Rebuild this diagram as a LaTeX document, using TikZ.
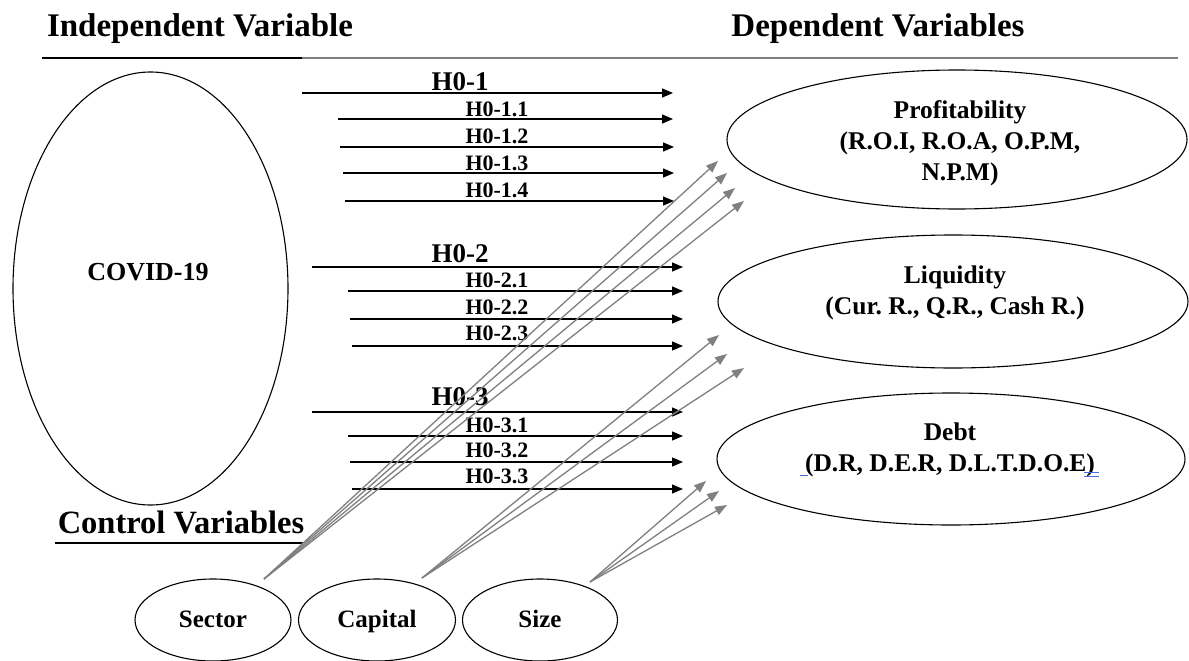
\documentclass[tikz,border=0pt]{standalone}
\usepackage{fontspec}
\setmainfont{Liberation Serif}
\usetikzlibrary{arrows.meta,shapes.geometric}
\definecolor{gline}{RGB}{128,128,128}
\definecolor{wordblue}{RGB}{70,110,220}
\frenchspacing
\begin{document}
\begin{tikzpicture}[x=1pt,y=-1pt,
  title/.style={font=\fontsize{33}{38}\selectfont\bfseries, inner sep=0pt, anchor=base},
  oval/.style={draw, ellipse, line width=1.1pt, inner sep=0pt},
  ovaltext/.style={font=\fontsize{25.5}{31}\selectfont\bfseries, align=center, inner sep=0pt},
  smalloval/.style={oval, minimum width=156pt, minimum height=82pt, font=\fontsize{25}{28}\selectfont\bfseries, text height=17pt, text depth=3pt},
  hmain/.style={font=\fontsize{27}{30}\selectfont\bfseries, inner sep=0pt, anchor=base},
  hsub/.style={font=\fontsize{22}{24}\selectfont\bfseries, inner sep=0pt, anchor=base},
  harrow/.style={line width=1.3pt, -{Triangle[length=11pt,width=9pt]}},
  garrow/.style={draw=gline, line width=1.3pt, -{Triangle[length=12pt,width=9pt]}, color=gline},
]
\useasboundingbox[fill=white] (0,0) rectangle (1189,661);

% titles and top rule
\node[title] (indep) at (200,37) {Independent Variable};
\node[title] (dep) at (878,37) {Dependent Variables};
\coordinate (rA) at (42,58);
\coordinate (rB) at (302,58);
\coordinate (rC) at (1178,58);
\draw[gline, line width=2pt] (rA) -- (rC);
\draw[black, line width=2pt] (rA) -- (rB);

% COVID ellipse
\node[oval, minimum width=275pt, minimum height=433pt] (covid) at (150.5,288.5) {};
\node[ovaltext, font=\fontsize{26}{28}\selectfont\bfseries] (covidtxt) at (148,272) {COVID-19};

% dependent ellipses
\node[oval, minimum width=460pt, minimum height=139pt] (prof) at (957,139.5) {};
\node[ovaltext] (proftxt) at (960,143) {Profitability\\(R.O.I, R.O.A, O.P.M,\\N.P.M)};
\node[oval, minimum width=470pt, minimum height=133pt] (liq) at (953,301.5) {};
\node[ovaltext] (liqtxt) at (955,293) {Liquidity\\(Cur. R., Q.R., Cash R.)};
\node[oval, minimum width=468pt, minimum height=132pt] (debt) at (951,459) {};
\node[ovaltext] (debttxt) at (950,450) {Debt\\(D.R, D.E.R, D.L.T.D.O.E)};
% small blue autocorrect marks
\coordinate (bm1a) at (800,475.5); \coordinate (bm1b) at (808,475.5);
\coordinate (bm2a) at (1084,472.5); \coordinate (bm2b) at (1099,472.5);
\coordinate (bm3a) at (1084,476); \coordinate (bm3b) at (1099,476);
\draw[wordblue, line width=0.9pt] (bm1a) -- (bm1b);
\draw[wordblue, line width=0.9pt] (bm2a) -- (bm2b);
\draw[wordblue, line width=0.9pt] (bm3a) -- (bm3b);

% control variables
\node[title, font=\fontsize{32.5}{36}\selectfont\bfseries] (ctrl) at (181,533) {Control Variables};
\coordinate (ul1) at (55,543); \coordinate (ul2) at (303,543);
\draw[line width=1.3pt] (ul1) -- (ul2);
\node[smalloval] (sector) at (213,620) {Sector};
\node[smalloval, minimum width=157pt] (capital) at (377,620) {Capital};
\node[smalloval, minimum width=155pt] (size) at (540,620) {Size};

% H0-1 group
\coordinate (a1s) at (302,93);  \coordinate (a1e) at (673,93);
\coordinate (a11s) at (338,119); \coordinate (a11e) at (673,119);
\coordinate (a12s) at (340,147); \coordinate (a12e) at (674,147);
\coordinate (a13s) at (343,173); \coordinate (a13e) at (674,173);
\coordinate (a14s) at (345,201); \coordinate (a14e) at (674,201);
\draw[harrow] (a1s) -- (a1e);
\draw[harrow] (a11s) -- (a11e);
\draw[harrow] (a12s) -- (a12e);
\draw[harrow] (a13s) -- (a13e);
\draw[harrow] (a14s) -- (a14e);
\node[hmain] (l1) at (460,90) {H0-1};
\node[hsub] (l11) at (497,116) {H0-1.1};
\node[hsub] (l12) at (497,143) {H0-1.2};
\node[hsub] (l13) at (497,170) {H0-1.3};
\node[hsub] (l14) at (497,197) {H0-1.4};

% H0-2 group
\coordinate (a2s) at (312,267);  \coordinate (a2e) at (683,267);
\coordinate (a21s) at (348,291); \coordinate (a21e) at (683,291);
\coordinate (a22s) at (350,319); \coordinate (a22e) at (683,319);
\coordinate (a23s) at (352,346); \coordinate (a23e) at (683,346);
\draw[harrow] (a2s) -- (a2e);
\draw[harrow] (a21s) -- (a21e);
\draw[harrow] (a22s) -- (a22e);
\draw[harrow] (a23s) -- (a23e);
\node[hmain] (l2) at (460,262) {H0-2};
\node[hsub] (l21) at (497,287) {H0-2.1};
\node[hsub] (l22) at (497,314) {H0-2.2};
\node[hsub] (l23) at (497,340) {H0-2.3};

% H0-3 group
\coordinate (a3s) at (312,412);  \coordinate (a3e) at (683,412);
\coordinate (a31s) at (348,436); \coordinate (a31e) at (683,436);
\coordinate (a32s) at (350,462); \coordinate (a32e) at (683,462);
\coordinate (a33s) at (352,489); \coordinate (a33e) at (683,489);
\draw[harrow] (a3s) -- (a3e);
\draw[harrow] (a31s) -- (a31e);
\draw[harrow] (a32s) -- (a32e);
\draw[harrow] (a33s) -- (a33e);
\node[hmain] (l3) at (460,405) {H0-3};
\node[hsub] (l31) at (497,432) {H0-3.1};
\node[hsub] (l32) at (497,457) {H0-3.2};
\node[hsub] (l33) at (497,483) {H0-3.3};

% control variable arrows
\coordinate (sS) at (264,579);
\coordinate (sT1) at (718,161); \coordinate (sT2) at (727,173);
\coordinate (sT3) at (735,188); \coordinate (sT4) at (744,201);
\draw[garrow] (sS) -- (sT1);
\draw[garrow] (sS) -- (sT2);
\draw[garrow] (sS) -- (sT3);
\draw[garrow] (sS) -- (sT4);
\coordinate (cS) at (422,578);
\coordinate (cT1) at (719,335); \coordinate (cT2) at (727,354); \coordinate (cT3) at (744,368);
\draw[garrow] (cS) -- (cT1);
\draw[garrow] (cS) -- (cT2);
\draw[garrow] (cS) -- (cT3);
\coordinate (zS) at (590,582);
\coordinate (zT1) at (706,481); \coordinate (zT2) at (719,491); \coordinate (zT3) at (727,505);
\draw[garrow] (zS) -- (zT1);
\draw[garrow] (zS) -- (zT2);
\draw[garrow] (zS) -- (zT3);
\end{tikzpicture}
\end{document}
